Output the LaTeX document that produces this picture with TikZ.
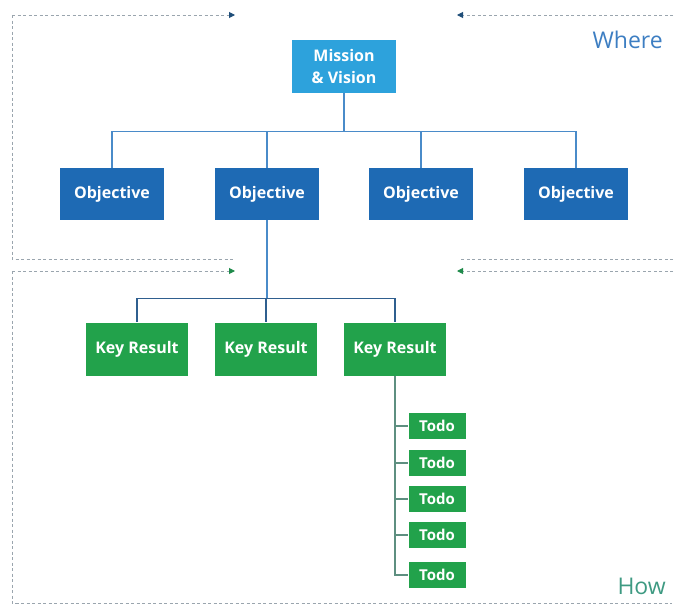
\documentclass[tikz,border=0pt]{standalone}
\usepackage{fontspec}
\setmainfont{Open Sans}
\usetikzlibrary{arrows.meta}
\definecolor{mvblue}{HTML}{2DA2DC}
\definecolor{objblue}{HTML}{1E6AB4}
\definecolor{krgreen}{HTML}{22A24B}
\definecolor{linkblue}{HTML}{4A8BC9}
\definecolor{busdark}{HTML}{2F5F8F}
\definecolor{todoline}{HTML}{5E8F80}
\definecolor{dashgray}{HTML}{9AA5AE}
\definecolor{wherecol}{HTML}{3D7EC2}
\definecolor{howcol}{HTML}{3E9A82}
\definecolor{arrblue}{HTML}{1F4E79}
\definecolor{arrgreen}{HTML}{1E8A4A}
\tikzset{
  boxbase/.style={rectangle, text=white, inner sep=2pt, align=center, font=\bfseries\fontsize{16}{22}\selectfont},
  mvbox/.style={boxbase, fill=mvblue, minimum width=104pt, minimum height=53pt},
  objbox/.style={boxbase, fill=objblue, minimum width=104pt, minimum height=52pt},
  krbox/.style={boxbase, fill=krgreen, minimum width=102pt, minimum height=53pt},
  todobox/.style={boxbase, fill=krgreen, minimum width=57pt, minimum height=26pt, font=\bfseries\fontsize{15}{17}\selectfont},
  link/.style={draw=linkblue, line width=1.2pt},
  buslink/.style={draw=busdark, line width=1.2pt},
  todolink/.style={draw=todoline, line width=1.2pt},
  guide/.style={draw=dashgray, line width=1pt, dash pattern=on 3pt off 2.5pt},
  guideblue/.style={guide, -{Triangle[length=6pt,width=6pt,fill=arrblue,color=arrblue]}},
  guidegreen/.style={guide, -{Triangle[length=6pt,width=6pt,fill=arrgreen,color=arrgreen]}},
  zonelabel/.style={font=\fontsize{23}{26}\selectfont, inner sep=0pt}
}
\begin{document}
\begin{tikzpicture}[x=1pt,y=-1pt]
\useasboundingbox (0,0) rectangle (675,605);
% guides
\coordinate (tl) at (12,15);
\coordinate (ta) at (235,15);
\coordinate (tr) at (673,15);
\coordinate (tra) at (457,15);
\coordinate (ml) at (12,259);
\coordinate (mle) at (234,259);
\coordinate (mr) at (673,259);
\coordinate (mre) at (460,259);
\coordinate (gl) at (12,271);
\coordinate (gla) at (235,271);
\coordinate (gr) at (673,271);
\coordinate (gra) at (457,271);
\coordinate (bl) at (12,603);
\coordinate (br) at (672,603);
\draw[guideblue] (tl) -- (ta);
\draw[guideblue] (tr) -- (tra);
\draw[guide] (tl) -- (ml) -- (mle);
\draw[guide] (mr) -- (mre);
\draw[guidegreen] (gl) -- (gla);
\draw[guidegreen] (gr) -- (gra);
\draw[guide] (gl) -- (bl) -- (br);
% labels
\node[zonelabel, text=wherecol, anchor=east] (where) at (663,40) {Where};
\node[zonelabel, text=howcol, anchor=east] (how) at (666,586) {How};
% nodes
\node[mvbox] (mv) at (344,66) {Mission\\\& Vision};
\node[objbox] (o1) at (112,194) {Objective};
\node[objbox] (o2) at (267,194) {Objective};
\node[objbox] (o3) at (421,194) {Objective};
\node[objbox] (o4) at (576,194) {Objective};
\node[krbox] (k1) at (137,349) {Key Result};
\node[krbox] (k2) at (266,349) {Key Result};
\node[krbox] (k3) at (395,349) {Key Result};
\node[todobox] (t1) at (437,426) {Todo};
\node[todobox] (t2) at (437,463) {Todo};
\node[todobox] (t3) at (437,499) {Todo};
\node[todobox] (t4) at (437,535) {Todo};
\node[todobox] (t5) at (437,575) {Todo};
% connectors
\foreach \o in {o1,o2,o3,o4}
  \draw[link] (mv.south) -- ++(0,39) -| (\o.north);
\draw[link] (o2.south) -- ++(0,78);
\foreach \k in {k1,k2,k3}
  \draw[buslink] (o2.south) ++(0,78) -| (\k.north);
\foreach \t in {t1,t2,t3,t4,t5}
  \draw[todolink] (k3.south) |- (\t.west);
\end{tikzpicture}
\end{document}
